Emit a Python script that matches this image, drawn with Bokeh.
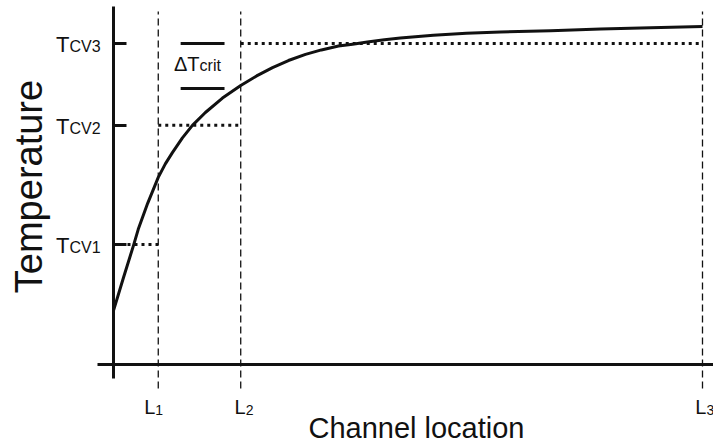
from bokeh.plotting import figure
from bokeh.models import ColumnDataSource, FixedTicker, Range1d, LinearAxis, Grid
from bokeh.core.properties import value
from bokeh.embed import file_html
from bokeh.resources import INLINE

# ---- data (schematic) ----
curve_x = [0, 0.17, 0.34, 0.42, 0.58, 0.76, 0.88, 1.00, 1.17, 1.34, 1.56, 1.85,
           2.16, 2.43, 2.70, 2.97, 3.26, 3.53, 3.82, 4.06, 4.31, 4.60, 4.87,
           5.43, 5.99, 6.57, 7.42, 8.27, 9.12, 10.0]
curve_t = [1.68, 2.71, 3.71, 4.21, 5.02, 5.83, 6.25, 6.60, 7.06, 7.45, 7.85, 8.30,
           8.69, 8.99, 9.25, 9.47, 9.66, 9.80, 9.92, 9.98, 10.05, 10.12, 10.17,
           10.26, 10.32, 10.36, 10.40, 10.45, 10.49, 10.53]

loc_names = ["L", "L", "L"]
loc_subs = ["1", "2", "3"]
loc_x = [0.76, 2.16, 10.0]

tcv_names = ["T", "T", "T"]
tcv_subs = ["CV1", "CV2", "CV3"]
tcv = [3.74, 7.45, 10.0]

dT_crit = 1.4
dT_band_x = [1.14, 1.885]

x_title = "Channel location"
y_title = "Temperature"

FONT = value("Liberation Sans")
INK = "#111111"

p = figure(width=713, height=446, output_backend="svg", toolbar_location=None,
           x_range=Range1d(-1.9185, 10.1868), y_range=Range1d(-2.5545, 11.3396),
           min_border=0, x_axis_location=None, y_axis_location=None)
p.outline_line_color = None
p.background_fill_color = "white"
p.border_fill_color = "white"
p.center = [c for c in p.center if not isinstance(c, Grid)]

# axes drawn by Bokeh, crossing at the origin
xa = LinearAxis(fixed_location=0, bounds=(-0.27, 10.1868),
                ticker=FixedTicker(ticks=[]))
xa.axis_line_width = 3
xa.axis_line_color = INK
xa.major_tick_line_color = None
xa.minor_tick_line_color = None
xa.major_label_text_font_size = "0px"
p.add_layout(xa, "below")

ya = LinearAxis(fixed_location=0, bounds=(-0.436, 11.15),
                ticker=FixedTicker(ticks=tcv))
ya.axis_line_width = 3
ya.axis_line_color = INK
ya.major_tick_line_width = 3
ya.major_tick_line_color = INK
ya.major_tick_in = 13
ya.major_tick_out = 0
ya.minor_tick_line_color = None
ya.major_label_text_font_size = "0px"
ya.major_label_text_color = None
p.add_layout(ya, "left")

# vertical dashed location lines
p.segment(x0=loc_x, y0=[-0.75] * len(loc_x), x1=loc_x, y1=[11.0] * len(loc_x),
          line_color=INK, line_width=1.3, line_dash="7 4")

# dotted control-volume temperature lines
starts = [0] + loc_x[:-1]
p.segment(x0=starts, y0=tcv, x1=loc_x, y1=tcv,
          line_color=INK, line_width=3, line_dash="3 4")

# curve
p.line(curve_x, curve_t, line_color=INK, line_width=3, line_join="round")

# delta T crit band
p.segment(x0=[dT_band_x[0]] * 2, x1=[dT_band_x[1]] * 2,
          y0=[tcv[2], tcv[2] - dT_crit], y1=[tcv[2], tcv[2] - dT_crit],
          line_color=INK, line_width=3)
mid_x = (dT_band_x[0] + dT_band_x[1]) / 2
mid_y = tcv[2] - dT_crit / 2
p.text(x=[mid_x], y=[mid_y], text=["\u0394T"], x_offset=-3, y_offset=-2,
       text_align="right", text_baseline="alphabetic", text_font=FONT,
       text_font_size="20px", text_color=INK)
p.text(x=[mid_x], y=[mid_y], text=["crit"], x_offset=-3, y_offset=0,
       text_align="left", text_baseline="alphabetic", text_font=FONT,
       text_font_size="16px", text_color=INK)

# y tick labels T_CVi
ysrc = ColumnDataSource(dict(x=[0] * len(tcv), y=tcv, name=tcv_names, sub=tcv_subs))
p.text(x="x", y="y", text="name", source=ysrc, x_offset=-44, y_offset=1,
       text_align="right", text_baseline="alphabetic", text_font=FONT,
       text_font_size="22px", text_color=INK)
p.text(x="x", y="y", text="sub", source=ysrc, x_offset=-44, y_offset=3,
       text_align="left", text_baseline="alphabetic", text_font=FONT,
       text_font_size="16px", text_color=INK)

# x tick labels L_i
xsrc = ColumnDataSource(dict(x=loc_x, y=[0] * len(loc_x), name=loc_names, sub=loc_subs,
                             dx=[-3, 5, 4]))
p.text(x="x", y="y", text="name", source=xsrc, x_offset="dx", y_offset=42,
       text_align="right", text_baseline="alphabetic", text_font=FONT,
       text_font_size="20px", text_color=INK)
p.text(x="x", y="y", text="sub", source=xsrc, x_offset="dx", y_offset=45,
       text_align="left", text_baseline="alphabetic", text_font=FONT,
       text_font_size="14px", text_color=INK)

# axis titles
p.text(x=[5.144], y=[0], text=[x_title], y_offset=63, text_align="center",
       text_baseline="alphabetic", text_font=FONT, text_font_size="29px",
       text_color=INK)
p.text(x=[0], y=[5.545], text=[y_title], x_offset=-84, angle=1.5708,
       text_align="center", text_baseline="alphabetic", text_font=FONT,
       text_font_size="38px", text_color=INK)

open("out.html", "w").write(file_html(p, INLINE))
